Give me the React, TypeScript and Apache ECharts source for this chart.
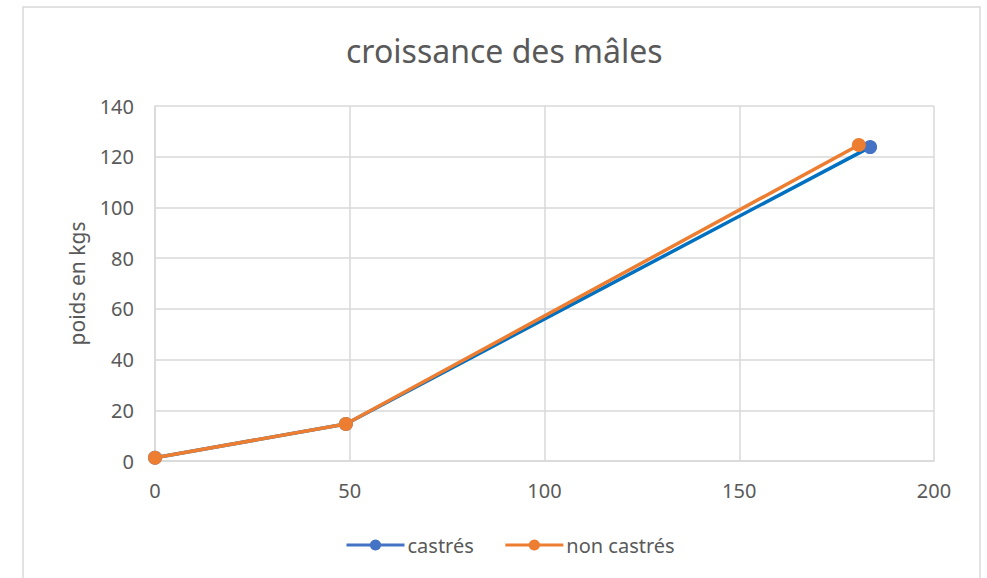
import React, { useEffect, useRef } from "react";
import * as echarts from "echarts";

const title = "croissance des mâles";
const yAxisName = "poids en kgs";
const seriesNames = ["castrés", "non castrés"];
const castresX = [0, 49, 183.6];
const castresY = [1.3, 14.6, 123.8];
const nonCastresX = [0, 49, 180.7];
const nonCastresY = [1.3, 14.6, 124.6];
const xTicks = [0, 50, 100, 150, 200];
const yTicks = [0, 20, 40, 60, 80, 100, 120, 140];

const FONT = "Noto Sans";
const TEXT = "#595959";
const GRID = "#d9d9d9";

export default function App() {
  const ref = useRef<HTMLDivElement>(null);
  useEffect(() => {
    if (!ref.current) return;
    const chart = echarts.init(ref.current, undefined, { renderer: "svg" });
    const zip = (xs: number[], ys: number[]) => xs.map((x, i) => [x, ys[i]]);
    chart.setOption({
      animation: false,
      backgroundColor: "#ffffff",
      textStyle: { fontFamily: FONT },
      title: {
        text: title,
        left: 341,
        top: 29,
        textStyle: { fontFamily: FONT, fontSize: 32, fontWeight: "normal", color: TEXT },
      },
      graphic: [
        {
          type: "rect",
          shape: { x: 23, y: 7, width: 957, height: 600 },
          style: { fill: "none", stroke: GRID, lineWidth: 1.5 },
          silent: true,
        },
      ],
      legend: {
        bottom: 23,
        left: 345,
        padding: 0,
        itemWidth: 58,
        itemHeight: 14,
        itemGap: 30,
        textStyle: { fontFamily: FONT, fontSize: 20, color: TEXT, padding: [0, 0, 0, -2] },
        data: [
          { name: seriesNames[0], itemStyle: { color: "#4472C4" }, lineStyle: { color: "#4472C4", width: 3 } },
          { name: seriesNames[1], itemStyle: { color: "#ED7D31" }, lineStyle: { color: "#ED7D31", width: 3 } },
        ],
      },
      grid: { left: 155, right: 53, top: 106, bottom: 117 },
      xAxis: {
        type: "value",
        min: xTicks[0],
        max: xTicks[xTicks.length - 1],
        interval: xTicks[1] - xTicks[0],
        axisLine: { show: true, lineStyle: { color: GRID, width: 1.5 } },
        axisTick: { show: false },
        splitLine: { show: true, lineStyle: { color: GRID, width: 1.5 } },
        axisLabel: { fontFamily: FONT, fontSize: 20, color: TEXT, margin: 19 },
      },
      yAxis: {
        type: "value",
        min: yTicks[0],
        max: yTicks[yTicks.length - 1],
        interval: yTicks[1] - yTicks[0],
        name: yAxisName,
        nameLocation: "middle",
        nameGap: 68,
        nameRotate: 90,
        nameTextStyle: { fontFamily: FONT, fontSize: 21, color: TEXT },
        axisLine: { show: true, lineStyle: { color: GRID, width: 1.5 } },
        axisTick: { show: false },
        splitLine: { show: true, lineStyle: { color: GRID, width: 1.5 } },
        axisLabel: { fontFamily: FONT, fontSize: 20, color: TEXT, margin: 21 },
      },
      series: [
        {
          name: seriesNames[0],
          type: "line",
          data: zip(castresX, castresY),
          symbol: "circle",
          symbolSize: 14,
          itemStyle: { color: "#4472C4" },
          lineStyle: { color: "#0070C0", width: 3.5 },
          z: 2,
        },
        {
          name: seriesNames[1],
          type: "line",
          data: zip(nonCastresX, nonCastresY),
          symbol: "circle",
          symbolSize: 14,
          itemStyle: { color: "#ED7D31" },
          lineStyle: { color: "#ED7D31", width: 3.5 },
          z: 3,
        },
      ],
    });
    return () => chart.dispose();
  }, []);
  return (
    <div
      ref={ref}
      style={{ position: "fixed", left: 0, top: 0, width: 987, height: 578 }}
    />
  );
}
